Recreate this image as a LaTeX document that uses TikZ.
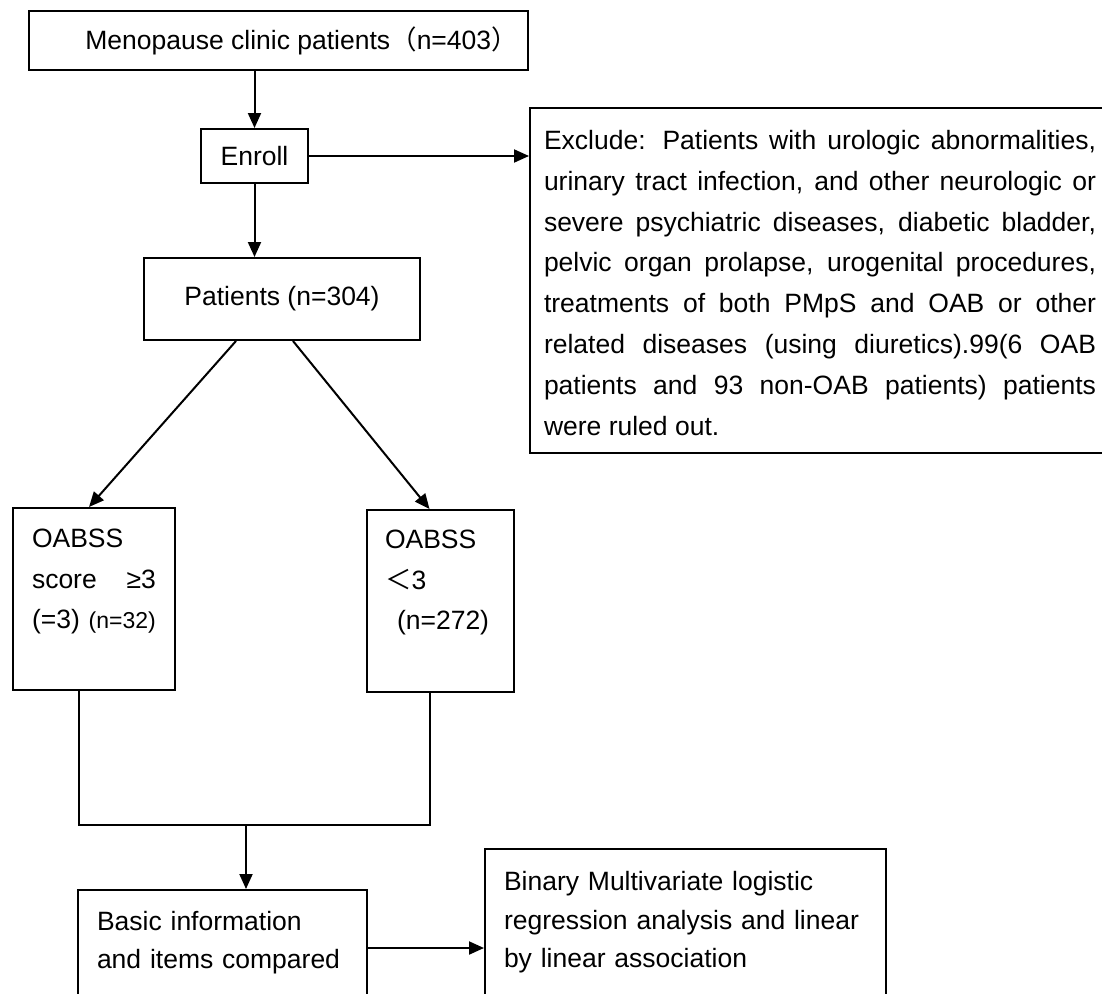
\documentclass[tikz,border=0pt]{standalone}
\usepackage{fontspec}
\setmainfont{Liberation Sans}
\newfontfamily\cjk{Noto Sans CJK SC}
\usetikzlibrary{arrows.meta}

\begin{document}
\begin{tikzpicture}[x=1pt, y=-1pt,
    box/.style={draw, line width=2pt, inner sep=0pt, anchor=north west},
    textbox/.style={box, align=left},
    link/.style={line width=2pt, -{Triangle[length=15pt, width=13pt]}},
    font=\fontsize{26.5pt}{40.5pt}\selectfont]
    \useasboundingbox (0,0) rectangle (1102,993);
    \clip (0,0) rectangle (1102,993);

    \node[box, minimum width=499pt, minimum height=59pt] (clinic) at (28,10)
        {\hspace*{46pt}Menopause clinic patients{\cjk （}n=403{\cjk ）}};
    \node[box, minimum width=107pt, minimum height=54pt] (enroll) at (200,128) {Enroll};
    \node[textbox, align=justify, inner xsep=14pt, text width=552pt,
          text height=41.5pt, text depth=303.5pt,
          font=\fontsize{26.5pt}{40.8pt}\selectfont] (exclude) at (529,107)
        {Exclude: Patients with urologic abnormalities,\linebreak
         urinary tract infection, and other neurologic or\linebreak
         severe psychiatric diseases, diabetic bladder,\linebreak
         pelvic organ prolapse, urogenital procedures,\linebreak
         treatments of both PMpS and OAB or other\linebreak
         related diseases (using diuretics).99(6 OAB\linebreak
         patients and 93 non-OAB patients) patients\linebreak
         were ruled out.};
    \node[box, minimum width=276pt, minimum height=82pt] (patients) at (143,257) {Patients (n=304)};

    \node[textbox, inner xsep=19pt, text width=124pt,
          text height=39.5pt, text depth=142.5pt] (oabssA) at (12,507)
        {OABSS\\ score\hfill ≥3\\ (=3) {\fontsize{23pt}{40.5pt}\selectfont(n=32)}};
    \node[textbox, inner xsep=18pt, text width=111pt,
          text height=38.5pt, text depth=143.5pt] (oabssB) at (366,509)
        {OABSS\\ {\cjk ＜}3\\ \hspace*{12pt}(n=272)};

    \node[textbox, inner xsep=19pt, text width=251pt,
          text height=40.5pt, text depth=75.5pt,
          font=\fontsize{26.5pt}{38pt}\selectfont] (basic) at (77,889)
        {Basic information\\ and items compared};
    \node[textbox, inner xsep=19pt, text width=363pt,
          text height=41.5pt, text depth=156.5pt,
          font=\fontsize{26.5pt}{38.5pt}\selectfont] (binary) at (484,848)
        {Binary Multivariate logistic\\ regression analysis and linear\\ by linear association};

    \coordinate (merge) at (246,825);

    \draw[link] (clinic.south -| enroll.north) -- (enroll.north);
    \draw[link] (enroll.east) -- (enroll.east -| exclude.west);
    \draw[link] (enroll.south) -- (enroll.south |- patients.north);
    \draw[link] ([xshift=-46pt]patients.south) -- ([xshift=-5pt]oabssA.north);
    \draw[link] ([xshift=11pt]patients.south) -- ([xshift=-11pt]oabssB.north);
    \draw[line width=2pt] ([xshift=-15pt]oabssA.south) |- (merge) -| ([xshift=-10.5pt]oabssB.south);
    \draw[link] (merge) -- (merge |- basic.north);
    \draw[link] (basic.east) -- (basic.east -| binary.west);
\end{tikzpicture}
\end{document}
